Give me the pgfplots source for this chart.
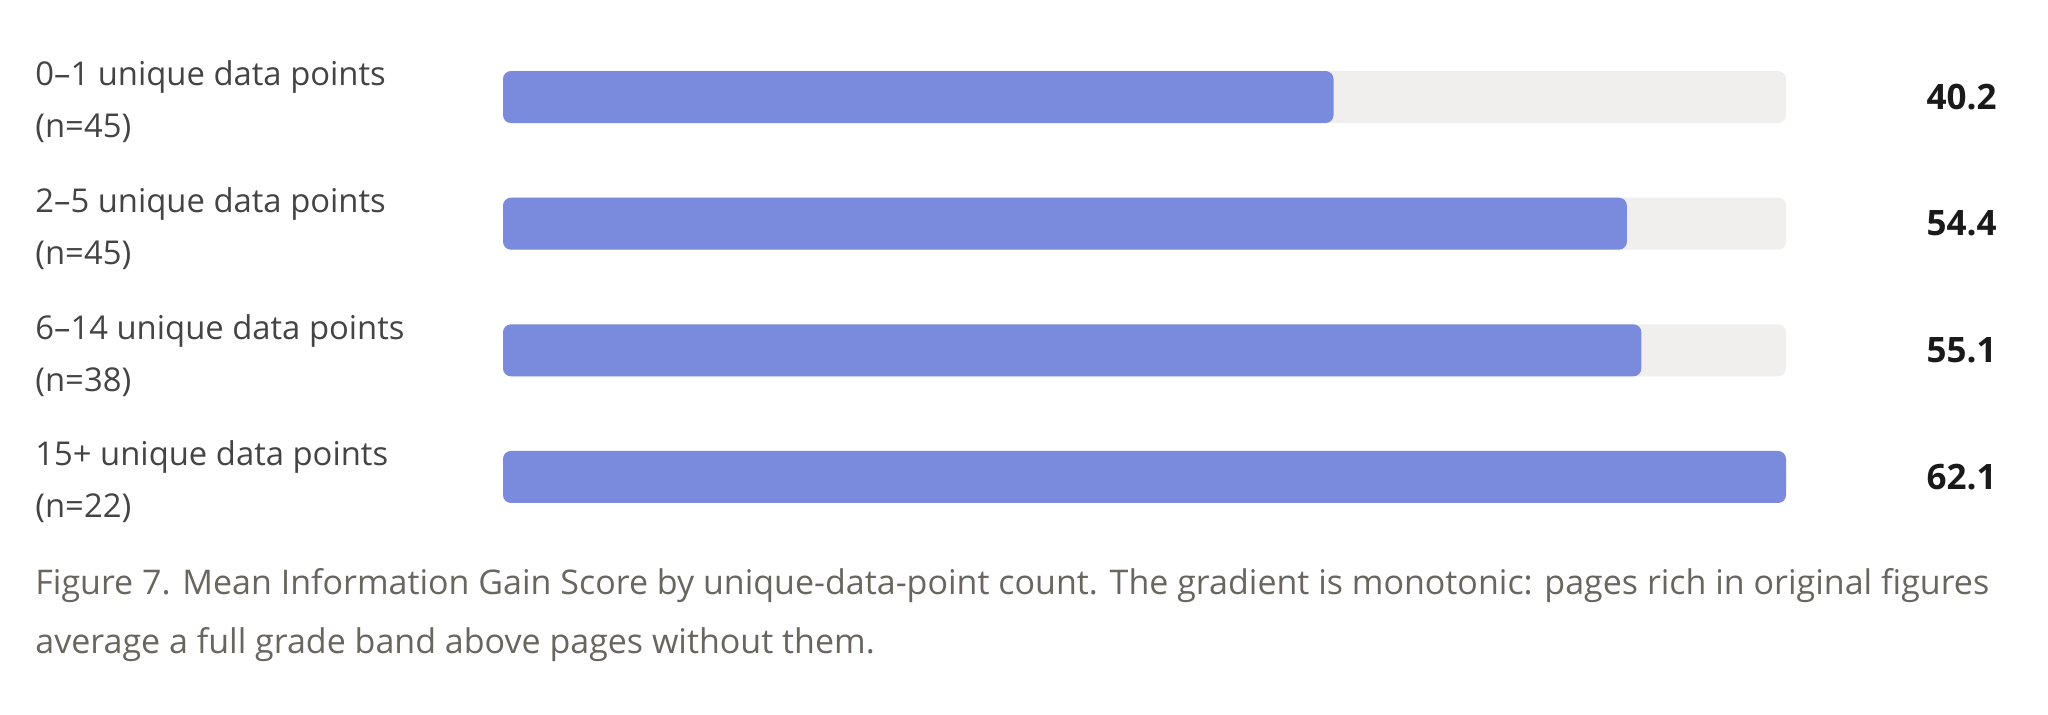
\documentclass[border=0pt]{standalone}
\usepackage{pgfplots}
\pgfplotsset{compat=1.18}
\usepackage{pgfplotstable}
\usepackage{fontspec}
\setmainfont{Open Sans}
\definecolor{barblue}{RGB}{122,139,221}
\definecolor{track}{RGB}{240,239,237}
\definecolor{labelgray}{RGB}{68,68,68}
\definecolor{capgray}{RGB}{105,102,96}
\definecolor{valblack}{RGB}{26,26,26}

% mean information gain score per bucket (row 0 at top)
\pgfplotstableread{
y value
0 40.2
1 54.4
2 55.1
3 62.1
}\scores

\begin{document}
\begin{tikzpicture}
\useasboundingbox (0,0) rectangle (1024pt,-357pt);
\begin{axis}[
  at={(251.5pt,-16.85pt)}, anchor=north west,
  scale only axis, width=641.5pt, height=253.3pt,
  xmin=0, xmax=62.1, ymin=-0.5, ymax=3.5, y dir=reverse,
  clip=false,
  axis line style={draw=none},
  major tick length=0pt,
  xtick=\empty,
  ytick={0,1,2,3},
  yticklabels={{0–1 unique data points\\(n=45)},
               {2–5 unique data points\\(n=45)},
               {6–14 unique data points\\(n=38)},
               {15+ unique data points\\(n=22)}},
  yticklabel style={anchor=west, align=left, inner sep=0pt,
    xshift=-234pt, yshift=-2.5pt,
    font=\fontsize{16.4}{26}\selectfont, text=labelgray},
]
  % grey track behind each bar
  \addplot[xbar, bar width=26pt, bar shift=0pt, fill=track, draw=none,
    rounded corners=4pt] table[x expr=62.1, y=y] {\scores};
  % score bars
  \addplot[xbar, bar width=26pt, bar shift=0pt, fill=barblue, draw=none,
    rounded corners=4pt] table[x=value, y=y] {\scores};
  % value labels in the right column
  \addplot[only marks, mark=none, point meta=explicit symbolic,
    nodes near coords,
    nodes near coords style={anchor=east, inner sep=0pt,
      font=\fontsize{17.5}{19}\selectfont\bfseries, text=valblack}]
    table[x expr=72.31, y=y, meta=value] {\scores};
\end{axis}
\node[anchor=north west, inner sep=0pt, align=left, text=capgray,
  font=\fontsize{17}{29.5}\selectfont] at (17.5pt,-283.8pt)
  {Figure 7. Mean Information Gain Score by unique-data-point count. The gradient is monotonic: pages rich in original figures\\
   average a full grade band above pages without them.};
\end{tikzpicture}
\end{document}
